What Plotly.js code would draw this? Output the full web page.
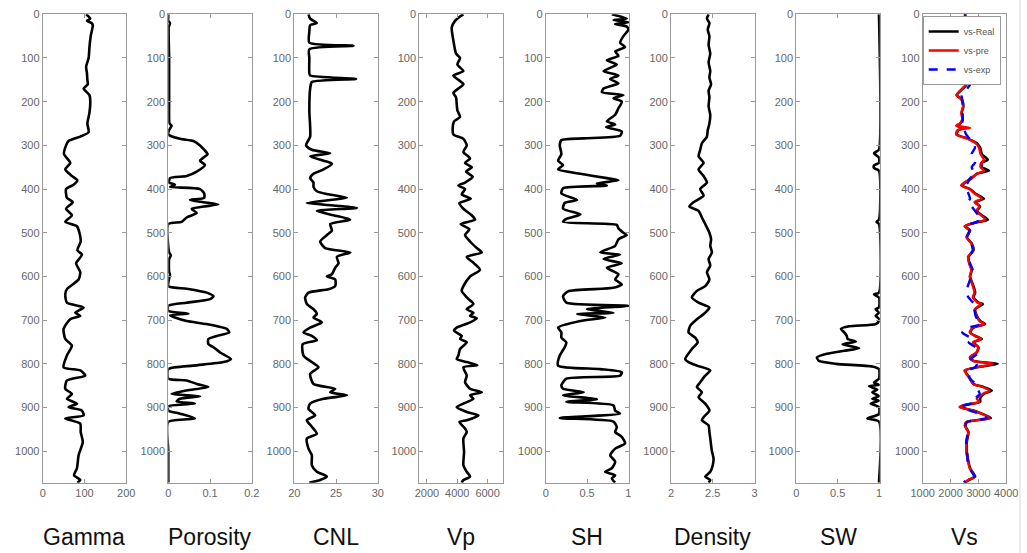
<!DOCTYPE html>
<html>
<head>
<meta charset="utf-8">
<script src="https://cdn.plot.ly/plotly-3.0.1.min.js"></script>
<style>
html,body{margin:0;padding:0;background:#fff;}
#chart{width:1027px;height:553px;}
</style>
</head>
<body>
<div id="chart"></div>
<script>
// ---------- data ----------
const panelNames = ["Gamma","Porosity","CNL","Vp","SH","Density","SW","Vs"];
const depthTicks = [0,100,200,300,400,500,600,700,800,900,1000];

const gammaDepth = [0,10,15,20,25,50,75,100,120,135,150,160,170,185,200,225,250,270,280,290,300,320,340,355,370,380,390,400,420,430,445,460,475,485,500,520,540,550,570,590,607,629,641,660,671,683,690,698,720,743,758,781,808,815,827,838,857,869,880,891,899,907,918,925,937,956,979,1009,1039,1055,1066,1072];
const gammaVal = [104,114,106,117,120,115,112,110,104,106,107,108,98,112,114,112,107,110,90,62,56,51,66,54,70,83,74,56,58,72,56,70,54,82,88,91,83,94,80,90,86,58,54,58,98,78,90,66,50,54,70,58,50,90,102,58,54,70,58,82,62,94,98,54,90,91,96,86,82,75,90,83];

const porDepth = [0,15,20,30,100,200,250,255,265,275,285,290,300,310,320,335,345,360,370,375,385,390,395,400,410,420,425,430,435,440,445,455,465,475,480,545,552,560,590,595,622,628,637,645,652,660,667,679,685,689,694,702,709,720,728,736,743,755,762,774,789,796,804,812,834,838,846,853,861,869,874,880,886,891,897,907,914,925,933,1000,1072];
const porVal = [0.0,0.0,0.004,0.001,0.002,0.002,0.003,0.008,0.002,0.0,0.028,0.06,0.076,0.086,0.094,0.076,0.088,0.068,0.044,0.004,0.002,0.016,0.004,0.076,0.086,0.086,0.052,0.084,0.12,0.084,0.056,0.068,0.044,0.032,0.0,0.002,0.006,0.002,0.002,0.004,0.0,0.044,0.092,0.108,0.10,0.044,0.0,0.0,0.048,0.004,0.016,0.044,0.092,0.14,0.146,0.116,0.096,0.096,0.108,0.124,0.15,0.132,0.06,0.0,0.0,0.044,0.068,0.096,0.044,0.008,0.076,0.028,0.02,0.064,0.0,0.0,0.028,0.064,0.0,0.0,0.0];

const cnlDepth = [0,10,20,25,40,65,72,80,100,135,140,148,155,170,220,280,300,310,318,325,335,342,355,365,375,385,395,405,412,420,425,432,438,443,450,460,470,480,495,505,520,535,545,555,570,580,595,600,607,622,629,637,648,663,675,686,694,705,717,728,736,746,755,781,796,808,823,846,857,865,872,880,891,903,918,929,944,960,971,994,1009,1032,1047,1058,1066,1072];
const cnlVal = [21.7,21.9,22.7,21.9,21.8,21.8,27.1,21.8,21.8,21.8,21.9,27.4,22.1,21.9,21.8,21.9,21.4,22.1,24.3,21.9,23.5,24.5,23.5,22.3,21.9,22.3,22.3,22.7,24.1,26.3,24.3,21.5,25.1,27.5,22.7,24.7,26.7,24.3,24.5,23.9,23.1,23.7,26.7,25.1,25.3,24.9,24.5,23.9,24.9,24.9,24.1,21.7,21.3,21.5,22.3,22.7,22.3,23.3,21.9,21.1,22.1,22.7,21.0,21.1,22.1,22.9,21.9,22.3,24.9,24.3,26.3,23.5,21.9,21.7,22.5,21.5,22.1,22.7,21.5,21.7,22.1,22.1,22.7,23.9,23.1,21.8];

const vpDepth = [0,5,15,30,60,90,100,115,130,140,150,160,170,180,190,205,220,235,245,260,275,285,300,315,330,340,350,360,372,385,392,400,412,422,432,445,460,470,480,492,505,520,535,545,555,570,585,600,622,633,648,663,675,683,690,696,705,717,724,736,743,751,766,781,789,796,803,808,827,842,857,865,872,880,891,899,910,918,929,933,948,956,971,1002,1032,1047,1058,1066,1072];
const vpVal = [4404,4184,3854,3634,3744,3920,4184,4008,4404,3744,4074,4404,4074,3744,3920,3964,4008,4184,3788,3700,3744,4404,4624,4404,4844,4514,4954,4580,5020,4514,4074,4514,4294,4888,4140,4404,4954,5174,4228,4800,4514,4844,5284,5614,4624,5108,5504,4844,4404,4294,4624,5064,4624,5064,4844,5284,4844,3964,3788,4294,4184,4624,4184,4074,3964,4624,5328,4404,4624,4514,4844,5614,4844,5064,4404,3964,4624,5394,4624,4140,4514,4624,4404,4448,4404,4624,4844,4404,4294];

const shDepth = [0,5,10,13,18,22,28,35,50,65,75,85,95,105,115,130,140,148,158,170,178,185,192,200,215,230,245,252,258,268,278,284,288,300,320,335,345,355,365,375,380,387,392,398,410,425,432,445,458,468,475,482,490,500,505,515,530,545,550,560,570,580,595,607,618,626,634,645,660,667,675,683,686,694,702,717,728,740,751,762,781,804,812,819,827,834,849,857,865,872,881,887,895,907,914,924,932,945,956,967,982,994,1009,1024,1039,1047,1055,1062,1072];
const shVal = [0.80,0.90,0.98,0.82,1.0,0.84,0.98,1.0,0.94,0.90,0.96,0.84,0.88,0.74,0.86,0.70,0.88,0.78,0.88,0.70,0.68,0.94,0.82,0.92,0.88,0.84,0.74,0.84,0.73,0.92,0.90,0.46,0.19,0.17,0.19,0.15,0.21,0.15,0.42,0.74,0.88,0.62,0.74,0.21,0.19,0.38,0.23,0.21,0.42,0.25,0.21,0.86,0.88,0.94,0.98,0.88,0.84,0.66,0.90,0.70,0.92,0.74,0.88,0.84,0.92,0.82,0.27,0.21,0.25,1.0,0.50,0.82,0.38,0.72,0.42,0.15,0.19,0.19,0.25,0.23,0.17,0.15,0.66,0.92,0.90,0.25,0.19,0.21,0.46,0.21,0.62,0.25,0.82,0.84,0.90,0.17,0.82,0.86,0.84,0.92,0.96,0.84,0.78,0.84,0.80,0.72,0.84,0.80,0.84];

const denDepth = [0,10,20,35,50,70,90,110,130,145,160,175,190,210,230,250,265,280,295,310,325,340,355,370,385,400,415,430,440,450,465,480,500,515,530,545,560,575,590,607,622,633,648,660,671,683,698,713,728,740,751,766,789,796,804,815,827,842,853,865,876,891,907,922,929,941,956,970,986,1000,1017,1032,1047,1058,1066,1072];
const denVal = [2.45,2.43,2.46,2.44,2.46,2.45,2.47,2.45,2.47,2.46,2.48,2.45,2.46,2.45,2.47,2.46,2.44,2.43,2.37,2.35,2.33,2.39,2.33,2.39,2.43,2.35,2.39,2.27,2.22,2.33,2.37,2.41,2.46,2.48,2.47,2.49,2.45,2.47,2.43,2.46,2.41,2.31,2.25,2.33,2.46,2.41,2.31,2.23,2.21,2.29,2.32,2.25,2.17,2.21,2.31,2.47,2.41,2.35,2.31,2.37,2.33,2.41,2.46,2.39,2.37,2.45,2.46,2.47,2.48,2.49,2.51,2.50,2.47,2.41,2.47,2.45];

const swDepth = [0,310,314,318,323,328,340,346,352,358,470,475,480,637,641,648,671,675,683,690,697,702,709,714,720,728,736,743,749,755,758,764,770,777,785,793,800,806,812,834,843,848,851,859,865,874,880,884,891,899,915,925,932,1072];
const swVal = [1,1,0.97,0.94,0.97,1,1,0.94,0.94,1,1,0.97,1,1,0.94,1,1,0.96,1,0.96,1,1,0.96,0.64,0.54,0.58,0.61,0.62,0.72,0.56,0.62,0.76,0.58,0.37,0.25,0.27,0.48,0.92,1,1,0.94,1,0.88,0.98,0.92,1,0.92,1,0.90,1,1,0.86,1,1];

const vsDepth = [0,10,50,100,110,120,140,150,160,170,185,195,210,225,240,250,255,260,265,275,285,295,305,320,333,340,350,358,365,375,385,392,400,410,422,430,440,450,460,470,478,485,495,510,525,540,555,570,585,600,622,637,648,660,663,675,690,702,709,717,728,736,743,751,762,774,785,793,800,808,815,823,834,846,853,861,869,880,887,895,899,907,914,924,933,941,956,979,1002,1024,1039,1051,1058,1066,1072];
const vsReal = [2524,2520,2420,2460,2404,2488,2224,2464,2584,2440,2224,2404,2464,2404,2440,2344,2224,2500,2284,2224,2644,2944,3064,3124,3340,3124,3124,3380,2944,2764,2524,2404,2704,2884,3200,2884,3064,2944,3124,3340,2824,2524,2704,2584,2764,2824,2644,2680,2764,2704,2824,2884,2824,3004,3160,2884,2944,3064,3244,2824,2704,2884,3124,2824,3004,2944,2704,2824,3700,2944,2524,2584,2704,2824,3184,3480,3184,3060,3064,2464,2344,2824,3124,3450,2584,2524,2644,2584,2584,2644,2704,2824,2884,2644,2524];
const vsPre = [2524,2510,2400,2420,2380,2470,2200,2440,2560,2420,2210,2390,2450,2390,2420,2330,2200,2700,2250,2200,2620,2900,3020,3080,3200,3100,3080,3200,2940,2760,2500,2380,2680,2860,3120,2860,3040,2920,3100,3260,2800,2500,2680,2570,2750,2810,2630,2670,2750,2690,2800,2860,2800,2980,3100,2870,2930,3040,3220,2800,2690,2870,3100,2800,2990,2930,2690,2800,3540,2920,2500,2570,2690,2810,3160,3400,3160,2940,3040,2440,2320,2800,3100,3400,2570,2510,2630,2570,2570,2630,2690,2810,2870,2630,2510];
const vsExp = [2524,2530,2450,2480,2440,2600,2450,2560,2704,2600,2400,2420,2440,2430,2440,2420,2450,2480,2500,2560,2680,2800,2880,2760,2900,2880,2760,2820,2880,2700,2620,2540,2580,2640,2700,2620,2760,2880,3000,3100,2800,2550,2680,2600,2740,2800,2660,2700,2800,2740,2620,2540,2650,2820,2900,2860,2900,3000,3100,2650,2420,2600,2800,2650,2900,3000,2800,2680,2950,2880,2600,2650,2700,2900,2950,3000,3050,2880,2900,2500,2400,2700,3000,3300,2600,2540,2620,2560,2600,2620,2680,2800,2860,2550,2480];

const xRanges = [[0,200],[0,0.2],[20,30],[1500,7000],[0,1.01],[2,3],[0,1.01],[1000,4000]];
const xTicks = [[0,100,200],[0,0.1,0.2],[20,25,30],[2000,4000,6000],[0,0.5,1],[2,2.5,3],[0,0.5,1],[1000,2000,3000,4000]];
const xTickText = [["0","100","200"],["0","0.1","0.2"],["20","25","30"],["2000","4000","6000"],["0","0.5","1"],["2","2.5","3"],["0","0.5","1"],["1000","2000","3000","4000"]];

// ---------- layout helpers ----------
const W = 1027, H = 553;
const lefts = [42.7,168.3,294.3,419.3,545.7,671.0,796.3,922.7];
const pw = 83.5;
const yTop = 1 - 14.3/H, yBot = 1 - 482.7/H;
const font = "Liberation Sans, Arial, sans-serif";

const traces = [];
const single = [[gammaDepth,gammaVal],[porDepth,porVal],[cnlDepth,cnlVal],[vpDepth,vpVal],[shDepth,shVal],[denDepth,denVal],[swDepth,swVal]];
single.forEach((p,i)=>{
  const s = i===0 ? "" : String(i+1);
  traces.push({x:p[1], y:p[0], xaxis:"x"+s, yaxis:"y"+s, mode:"lines",
    line:{color:"#000", width:2.6, shape:"spline", smoothing:0.6}, showlegend:false, hoverinfo:"skip"});
});
traces.push({x:vsReal, y:vsDepth, xaxis:"x8", yaxis:"y8", mode:"lines", name:"vs-Real",
  line:{color:"#000", width:2.6, shape:"spline", smoothing:0.6}});
traces.push({x:vsPre, y:vsDepth, xaxis:"x8", yaxis:"y8", mode:"lines", name:"vs-pre",
  line:{color:"#ff0000", width:2.4, shape:"spline", smoothing:0.6}});
traces.push({x:vsExp, y:vsDepth, xaxis:"x8", yaxis:"y8", mode:"lines", name:"vs-exp",
  line:{color:"#0000ff", width:2.4, dash:"dash", shape:"spline", smoothing:0.6}});

const layout = {
  width: W, height: H,
  margin:{l:0,r:0,t:0,b:0},
  paper_bgcolor:"#fff", plot_bgcolor:"#fff",
  font:{family:font, color:"#666", size:11},
  showlegend:true,
  legend:{x:922.7/W, y:1-16/H, xanchor:"left", yanchor:"top",
    bgcolor:"#fff", bordercolor:"#999", borderwidth:1,
    font:{family:font, size:9, color:"#555"}, tracegroupgap:0, itemwidth:30},
  annotations:[], shapes:[
    {type:"line", xref:"paper", yref:"paper", x0:1020/W, x1:1020/W, y0:0, y1:1,
     line:{color:"#d8d8d8", width:1}}
  ]
};

for (let i=0;i<8;i++){
  const s = i===0 ? "" : String(i+1);
  const l = lefts[i]/W, r = (lefts[i]+pw)/W;
  layout["xaxis"+s] = {domain:[l,r], anchor:"y"+s, range:xRanges[i],
    tickmode:"array", tickvals:xTicks[i], ticktext:xTickText[i],
    ticks:"inside", ticklen:4, tickwidth:1, tickcolor:"#9a9a9a",
    showline:true, linecolor:"#9a9a9a", linewidth:1, mirror:"ticks",
    showgrid:false, zeroline:false, fixedrange:true,
    tickfont:{family:font, size:11, color:"#666666"}};
  layout["yaxis"+s] = {domain:[yBot,yTop], anchor:"x"+s, range:[1072,0],
    tickmode:"array", tickvals:depthTicks,
    ticks:"inside", ticklen:4, tickwidth:1, tickcolor:"#9a9a9a",
    showline:true, linecolor:"#9a9a9a", linewidth:1, mirror:"ticks",
    showgrid:false, zeroline:false, fixedrange:true,
    tickfont:{family:font, size:11, color:"#666666"}};
  layout.annotations.push({xref:"paper", yref:"paper", x:(lefts[i]+pw/2)/W, y:1-537/H,
    xanchor:"center", yanchor:"middle", showarrow:false, text:panelNames[i],
    font:{family:font, size:23, color:"#111"}});
}

Plotly.newPlot("chart", traces, layout, {staticPlot:true, displayModeBar:false});
</script>
</body>
</html>
